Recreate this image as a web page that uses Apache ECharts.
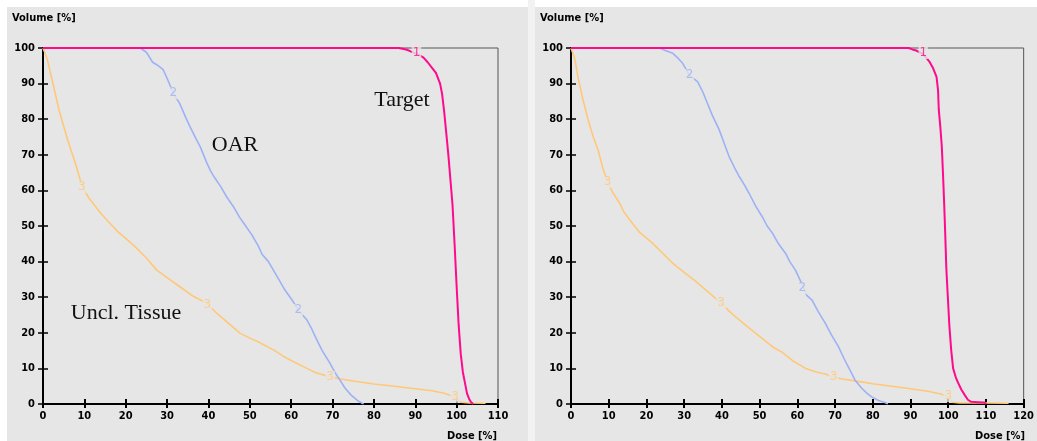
<!DOCTYPE html>
<html><head><meta charset="utf-8">
<script src="https://cdn.jsdelivr.net/npm/echarts@6/dist/echarts.min.js"></script>
<style>html,body{margin:0;padding:0;background:#fff}#c{width:1037px;height:441px}</style>
</head><body><div id="c"></div>
<script>
// ---- data (dose %, volume %) ----
const xTicksLeft = [0,10,20,30,40,50,60,70,80,90,100,110];
const xTicksRight = [0,10,20,30,40,50,60,70,80,90,100,110,120];
const yTicks = [0,10,20,30,40,50,60,70,80,90,100];

const leftTarget = [[0,100],[86,100],[88,99.5],[89,99],[90,98.5],[91,98],[92,97.3],[93,96],[94,94.5],[95,93],[96,90],[96.5,87],[97,82],[97.5,76],[98,70],[98.5,63],[99,56],[99.5,45],[100,33],[100.5,22],[101,14],[101.5,9],[102,6],[102.5,3],[103,1.5],[103.5,0.5],[104,0]];
const leftOAR = [[0,100],[23.5,100],[25,98.8],[26.5,96],[27.5,95.3],[29,94],[30,91.5],[31.5,87.3],[33,84.5],[34.5,80.5],[35.5,78],[37,74.5],[38,72.3],[39.5,68],[40.5,65.5],[41.6,63.4],[43,61],[44.5,58],[46,55.5],[47.5,52.5],[49,50],[50.5,47.5],[52,44.5],[53,42],[54.5,40],[55.7,37.6],[57,35],[58.5,32],[60.5,28.7],[61.7,26.4],[63.8,23.6],[65,21],[66.2,18],[67.5,15],[69.4,11.4],[70.5,9],[71.8,6.7],[73,4.5],[74.5,2.5],[76,1],[77,0.3],[77.5,0]];
const leftTissue = [[0,100],[1,97],[2,92],[3,87],[4,82],[5,78],[6,74],[7,70.5],[8,67],[9,63],[10,60],[11,58],[12,56.5],[14,53.5],[16,51],[18,48.5],[20,46.5],[22,44.5],[25,41],[27.5,37.6],[30,35.5],[33,33],[36,30.5],[39.6,28.3],[42,25.5],[45,22.5],[47.6,19.9],[50,18.5],[52,17.5],[55.7,15.2],[58,13.5],[60,12.2],[63.8,10],[66,8.8],[68.6,7.9],[72,7],[75.8,6.3],[80,5.6],[85,5],[90,4.3],[94,3.7],[97,3],[99,2.2],[100,1.2],[101,0.5],[103,0.3],[107,0.2]];

const rightTarget = [[0,100],[89.5,100],[90.5,99.6],[91.5,99.3],[93,98.5],[94,97.5],[95,96.2],[96,94.3],[96.9,91.9],[97.3,88.2],[97.5,82.6],[97.9,77.9],[98.3,72.3],[98.6,65],[98.9,57],[99.2,48],[99.5,38],[99.9,30],[100.3,22],[100.8,15],[101.3,10],[102,7.5],[102.6,6],[103.5,4],[104.4,2.5],[105.2,1.2],[106.1,0.6],[108,0.5],[109.6,0.4],[110,0]];
const rightOAR = [[0,100],[23.5,100],[25,99.3],[27,98.5],[28.5,97],[29.6,95.7],[31.4,92.4],[33.6,90.5],[35,87.5],[35.8,85.4],[37.5,81],[39.3,77],[40.5,73.5],[41.9,69.5],[43.3,66.5],[44.6,63.9],[46,61.5],[47.2,59.2],[49,55.5],[50.7,52.6],[52,50],[53.4,48],[55,45],[56.9,42.3],[58,40],[59.5,37.6],[61.3,33.5],[62.5,30.5],[63.9,29.2],[65.5,26],[67.4,22.7],[69,19.5],[70.9,16.1],[72.5,12.5],[74.4,8.6],[75.3,6.7],[77,4.5],[78.5,3],[79.7,2],[81.5,1],[83.2,0.4],[84,0]];
const rightTissue = [[0,100],[1,97],[2,91],[3.2,85.4],[4.5,80],[5.9,75],[7.2,71.3],[8.5,66],[9.7,62.4],[11,59.5],[12.9,56.4],[14,54],[15.6,51.7],[18.2,48.2],[21.6,45.2],[25.3,41.3],[27,39.5],[30,37],[33,34.5],[35.8,32],[39.8,28.3],[42,26],[44.6,23.6],[47,21.5],[50,19],[53.4,16.1],[56,14.5],[59,12],[62.2,10],[65,9],[67.4,8.4],[69.6,7.5],[72,7],[75.3,6.5],[80,5.7],[85,5],[90,4.3],[95,3.5],[98,2.8],[100,2.2],[101,0.5],[103,0.3],[110,0.3],[116,0.2]];

// curve number labels [dose, volume, text]
const leftTargetLabels = [[90.3,98.6,'1']];
const leftOARLabels = [[31.5,87.3,'2'],[61.7,26.4,'2']];
const leftTissueLabels = [[9.4,61,'3'],[39.7,27.8,'3'],[69.4,7.6,'3'],[99.6,2,'3']];
const rightTargetLabels = [[93.4,98.6,'1']];
const rightOARLabels = [[31.4,92.4,'2'],[61.3,32.5,'2']];
const rightTissueLabels = [[9.7,62.4,'3'],[39.8,28.3,'3'],[69.6,7.5,'3'],[100,2.2,'3']];

const annotations = [['Target',402,100],['OAR',235,145],['Uncl. Tissue',126,313]];

// ---- styles ----
const BG = '#e6e6e6';
const C_TARGET = '#ff0a8c';
const C_OAR = '#9cb2f4';
const C_TISSUE = '#ffc878';
const tickFont = {color:'#000', fontWeight:'bold', fontSize:11, fontFamily:'"DejaVu Sans Condensed", "Liberation Sans", sans-serif'};

const grids = [
  {left:43, top:48, width:455, height:356},
  {left:571, top:48, width:455, height:356}
];

function xAxes(gi, max) {
  return [
    {type:'value', gridIndex:gi, min:0, max:max, interval:10,
     axisLine:{show:true, onZero:false, lineStyle:{color:'#000', width:2}},
     axisTick:{show:true, inside:false, length:4, lineStyle:{color:'#000', width:2}},
     axisLabel:Object.assign({margin:7}, tickFont), splitLine:{show:false}},
    {type:'value', gridIndex:gi, min:0, max:max, interval:10, position:'bottom',
     axisLine:{show:false, onZero:false},
     axisTick:{show:true, inside:true, length:5, lineStyle:{color:'#000', width:2}},
     axisLabel:{show:false}, splitLine:{show:false}}
  ];
}
function yAxes(gi) {
  return [
    {type:'value', gridIndex:gi, min:0, max:100, interval:10,
     axisLine:{show:true, onZero:false, lineStyle:{color:'#000', width:2}},
     axisTick:{show:true, inside:false, length:5, lineStyle:{color:'#000', width:1.5}},
     axisLabel:Object.assign({margin:8}, tickFont), splitLine:{show:false}},
    {type:'value', gridIndex:gi, min:0, max:100, interval:10, position:'left',
     axisLine:{show:false, onZero:false},
     axisTick:{show:true, inside:true, length:5, lineStyle:{color:'#000', width:1.5}},
     axisLabel:{show:false}, splitLine:{show:false}}
  ];
}

function lineSeries(data, color, width, xi, yi, z) {
  return {type:'line', data:data, xAxisIndex:xi, yAxisIndex:yi, showSymbol:false, symbol:'none',
    lineStyle:{color:color, width:width}, z:z, silent:true, animation:false};
}
function labelSeries(data, color, xi, yi) {
  return {type:'scatter', data:data, xAxisIndex:xi, yAxisIndex:yi, symbolSize:0, z:10, silent:true, animation:false,
    label:{show:true, position:'inside', formatter:p=>p.value[2], color:color, fontSize:12,
      fontFamily:'DejaVu Sans, sans-serif', backgroundColor:BG, padding:[0,1]}};
}

const textStyleAxisName = {fill:'#000', font:'bold 11px "DejaVu Sans Condensed", "Liberation Sans", sans-serif'};
const graphics = [
  {type:'rect', shape:{x:0,y:0,width:1037,height:7}, style:{fill:'#fff'}, silent:true},
  {type:'rect', shape:{x:0,y:0,width:7,height:441}, style:{fill:'#fff'}, silent:true},
  {type:'rect', shape:{x:528,y:0,width:7,height:441}, style:{fill:'#f2f2f2'}, silent:true},
  {type:'text', left:12, top:13, style:Object.assign({text:'Volume [%]'}, textStyleAxisName)},
  {type:'text', left:540, top:13, style:Object.assign({text:'Volume [%]'}, textStyleAxisName)},
  {type:'text', left:447, top:431, style:Object.assign({text:'Dose [%]'}, textStyleAxisName)},
  {type:'text', left:975, top:431, style:Object.assign({text:'Dose [%]'}, textStyleAxisName)}
];
annotations.forEach(a => graphics.push({type:'text', x:a[1], y:a[2], silent:true,
  style:{text:a[0], fill:'#111', font:'22px "Liberation Serif", "Times New Roman", serif', textAlign:'center', textVerticalAlign:'middle'}}));

const option = {
  animation:false,
  backgroundColor:BG,
  grid:grids.map(g => Object.assign({show:true, borderColor:'#555', borderWidth:1, backgroundColor:'transparent'}, g)),
  xAxis:[].concat(xAxes(0,110), xAxes(1,120)),
  yAxis:[].concat(yAxes(0), yAxes(1)),
  series:[
    lineSeries(leftTissue, C_TISSUE, 1.6, 0, 0, 3),
    lineSeries(leftOAR, C_OAR, 1.6, 0, 0, 4),
    lineSeries(leftTarget, C_TARGET, 2, 0, 0, 5),
    labelSeries(leftTissueLabels, C_TISSUE, 0, 0),
    labelSeries(leftOARLabels, C_OAR, 0, 0),
    labelSeries(leftTargetLabels, C_TARGET, 0, 0),
    lineSeries(rightTissue, C_TISSUE, 1.6, 2, 2, 3),
    lineSeries(rightOAR, C_OAR, 1.6, 2, 2, 4),
    lineSeries(rightTarget, C_TARGET, 2, 2, 2, 5),
    labelSeries(rightTissueLabels, C_TISSUE, 2, 2),
    labelSeries(rightOARLabels, C_OAR, 2, 2),
    labelSeries(rightTargetLabels, C_TARGET, 2, 2)
  ],
  graphic:{elements:graphics}
};
const chart = echarts.init(document.getElementById('c'), null, {renderer:'canvas'});
chart.setOption(option);
</script></body></html>
